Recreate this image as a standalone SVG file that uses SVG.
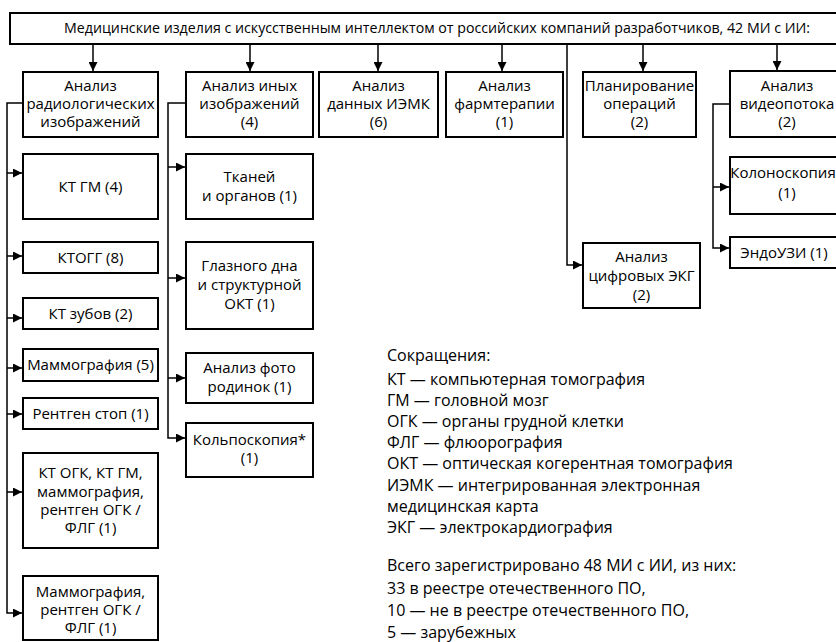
<svg xmlns="http://www.w3.org/2000/svg" width="836" height="642" viewBox="0 0 836 642">
<defs>
<marker id="arr" markerUnits="userSpaceOnUse" markerWidth="9" markerHeight="9" viewBox="0 0 10 10" refX="10" refY="5" orient="auto">
<path d="M0,0 L10,5 L0,10 z" fill="#000"/>
</marker>
<style>
.box{fill:#fff;stroke:#000;stroke-width:2}
.t{font-family:"Open Sans","Noto Sans",sans-serif;font-size:15px;fill:#000;text-anchor:middle}
.lg{font-family:"Open Sans","Noto Sans",sans-serif;font-size:16px;fill:#000}
.ti{font-family:"Open Sans","Noto Sans",sans-serif;font-size:14px;fill:#000}
.c{fill:none;stroke:#000;stroke-width:1.5}
.a{marker-end:url(#arr)}
</style>
</defs>
<rect width="836" height="642" fill="#fff"/>

<g id="connectors">
<path class="c a" d="M93 44 V71"/>
<path class="c a" d="M250 44 V71"/>
<path class="c a" d="M378 44 V71"/>
<path class="c a" d="M502 44 V71"/>
<path class="c a" d="M643 44 V71"/>
<path class="c a" d="M777 44 V70"/>
<path class="c a" d="M567 44 V265 H582"/>
<path class="c a" d="M23 103 H7 V613 H22"/>
<path class="c a" d="M7 173 H22"/>
<path class="c a" d="M7 256 H22"/>
<path class="c a" d="M7 318 H22"/>
<path class="c a" d="M7 368 H22"/>
<path class="c a" d="M7 414 H22"/>
<path class="c a" d="M7 492 H22"/>
<path class="c a" d="M186 103 H168 V438 H185"/>
<path class="c a" d="M168 167 H185"/>
<path class="c a" d="M168 278 H185"/>
<path class="c a" d="M168 378 H185"/>
<path class="c a" d="M730 104 H713 V248 H729"/>
<path class="c a" d="M713 187 H729"/>
</g>

<g id="root">
<rect class="box" x="10" y="13" width="840" height="31"/>
<text class="ti" x="64" y="33" textLength="746" lengthAdjust="spacingAndGlyphs">Медицинские изделия с искусственным интеллектом от российских компаний разработчиков, 42 МИ с ИИ:</text>
</g>

<g id="n-radio">
<rect class="box" x="23" y="72" width="135" height="65"/>
<text class="t" x="90.5" y="91">Анализ<tspan x="90.5" dy="18">радиологических</tspan><tspan x="90.5" dy="18">изображений</tspan></text>
</g>
<g id="n-inyh">
<rect class="box" x="186" y="72" width="127" height="65"/>
<text class="t" x="249.5" y="91">Анализ иных<tspan x="249.5" dy="18">изображений</tspan><tspan x="249.5" dy="18">(4)</tspan></text>
</g>
<g id="n-iemk">
<rect class="box" x="319" y="72" width="119" height="65"/>
<text class="t" x="378.5" y="91">Анализ<tspan x="378.5" dy="18">данных ИЭМК</tspan><tspan x="378.5" dy="18">(6)</tspan></text>
</g>
<g id="n-farm">
<rect class="box" x="446" y="72" width="117" height="65"/>
<text class="t" x="504.5" y="91">Анализ<tspan x="504.5" dy="18">фармтерапии</tspan><tspan x="504.5" dy="18">(1)</tspan></text>
</g>
<g id="n-plan">
<rect class="box" x="583" y="72" width="113" height="65"/>
<text class="t" x="639.5" y="91">Планирование<tspan x="639.5" dy="18">операций</tspan><tspan x="639.5" dy="18">(2)</tspan></text>
</g>
<g id="n-video">
<rect class="box" x="730" y="71" width="116" height="66"/>
<text class="t" x="787" y="91">Анализ<tspan x="787" dy="18">видеопотока</tspan><tspan x="787" dy="18">(2)</tspan></text>
</g>

<g id="n-ktgm">
<rect class="box" x="23" y="154" width="135" height="65"/>
<text class="t" x="90.5" y="191.5">КТ ГМ (4)</text>
</g>
<g id="n-ktogg">
<rect class="box" x="23" y="242" width="135" height="31"/>
<text class="t" x="90.5" y="263">КТОГГ (8)</text>
</g>
<g id="n-ktzub">
<rect class="box" x="23" y="298" width="135" height="31"/>
<text class="t" x="90.5" y="319">КТ зубов (2)</text>
</g>
<g id="n-mammo">
<rect class="box" x="23" y="349" width="135" height="32"/>
<text class="t" x="90.5" y="370">Маммография (5)</text>
</g>
<g id="n-rentgen">
<rect class="box" x="23" y="398" width="135" height="31"/>
<text class="t" x="90.5" y="419">Рентген стоп (1)</text>
</g>
<g id="n-ktogk">
<rect class="box" x="23" y="453" width="135" height="95"/>
<text class="t" x="90.5" y="478">КТ ОГК, КТ ГМ,<tspan x="90.5" dy="19">маммография,</tspan><tspan x="90.5" dy="18">рентген ОГК /</tspan><tspan x="90.5" dy="18">ФЛГ (1)</tspan></text>
</g>
<g id="n-mammo2">
<rect class="box" x="23" y="576" width="135" height="64"/>
<text class="t" x="90.5" y="597">Маммография,<tspan x="90.5" dy="18">рентген ОГК /</tspan><tspan x="90.5" dy="18">ФЛГ (1)</tspan></text>
</g>

<g id="n-tkan">
<rect class="box" x="186" y="154" width="127" height="65"/>
<text class="t" x="249.5" y="182">Тканей<tspan x="249.5" dy="19">и органов (1)</tspan></text>
</g>
<g id="n-glaz">
<rect class="box" x="186" y="242" width="127" height="87"/>
<text class="t" x="249.5" y="271">Глазного дна<tspan x="249.5" dy="19">и структурной</tspan><tspan x="249.5" dy="19">ОКТ (1)</tspan></text>
</g>
<g id="n-foto">
<rect class="box" x="186" y="353" width="127" height="50"/>
<text class="t" x="249.5" y="373">Анализ фото<tspan x="249.5" dy="19">родинок (1)</tspan></text>
</g>
<g id="n-kolpo">
<rect class="box" x="186" y="423" width="127" height="54"/>
<text class="t" x="249.5" y="445">Кольпоскопия*<tspan x="249.5" dy="18">(1)</tspan></text>
</g>

<g id="n-ekg">
<rect class="box" x="583" y="243" width="117" height="65"/>
<text class="t" x="641.5" y="262">Анализ<tspan x="641.5" dy="19">цифровых ЭКГ</tspan><tspan x="641.5" dy="19">(2)</tspan></text>
</g>
<g id="n-kolono">
<rect class="box" x="730" y="157" width="116" height="57"/>
<text class="t" x="783" y="178">Колоноскопия<tspan x="787" dy="20">(1)</tspan></text>
</g>
<g id="n-endo">
<rect class="box" x="730" y="237" width="116" height="31"/>
<text class="t" x="784" y="258">ЭндоУЗИ (1)</text>
</g>

<g id="legend">
<text class="lg" x="387" y="361">Сокращения:</text>
<text class="lg" x="387" y="385">КТ — компьютерная томография</text>
<text class="lg" x="387" y="406">ГМ — головной мозг</text>
<text class="lg" x="387" y="427">ОГК — органы грудной клетки</text>
<text class="lg" x="387" y="448">ФЛГ — флюорография</text>
<text class="lg" x="387" y="469">ОКТ — оптическая когерентная томография</text>
<text class="lg" x="387" y="491">ИЭМК — интегрированная электронная</text>
<text class="lg" x="387" y="512">медицинская карта</text>
<text class="lg" x="387" y="533">ЭКГ — электрокардиография</text>
<text class="lg" x="387" y="571">Всего зарегистрировано 48 МИ с ИИ, из них:</text>
<text class="lg" x="387" y="594">33 в реестре отечественного ПО,</text>
<text class="lg" x="387" y="616">10 — не в реестре отечественного ПО,</text>
<text class="lg" x="387" y="638">5 — зарубежных</text>
</g>
</svg>
